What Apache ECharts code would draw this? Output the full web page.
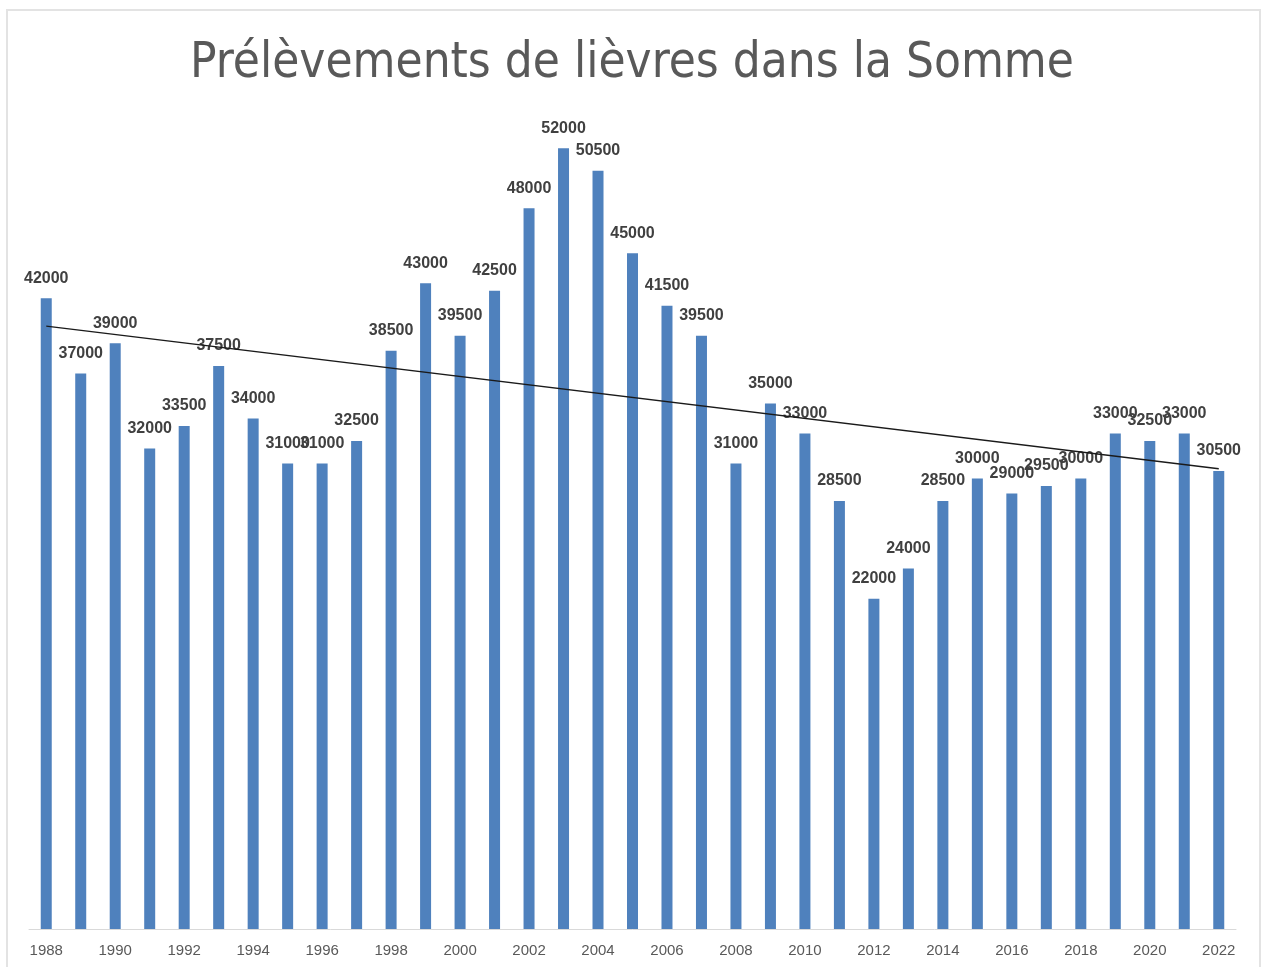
<!DOCTYPE html>
<html><head><meta charset="utf-8">
<script src="https://cdn.jsdelivr.net/npm/echarts@6/dist/echarts.min.js"></script>
<style>html,body{margin:0;padding:0;background:#fff}#c{width:1264px;height:967px}</style>
</head><body><div id="c"></div>
<script>
const years = ['1988','1989','1990','1991','1992','1993','1994','1995','1996','1997','1998','1999','2000','2001','2002','2003','2004','2005','2006','2007','2008','2009','2010','2011','2012','2013','2014','2015','2016','2017','2018','2019','2020','2021','2022'];
const prelevements = [42000,37000,39000,32000,33500,37500,34000,31000,31000,32500,38500,43000,39500,42500,48000,52000,50500,45000,41500,39500,31000,35000,33000,28500,22000,24000,28500,30000,29000,29500,30000,33000,32500,33000,30500];
const trendEnds = [40150, 30650];
const title = 'Prélèvements de lièvres dans la Somme';

const trend = years.map((y,i)=> i===0 ? trendEnds[0] : (i===years.length-1 ? trendEnds[1] : null));

const chart = echarts.init(document.getElementById('c'));
chart.setOption({
  animation:false,
  title:{text:title,left:'center',top:35,textStyle:{fontFamily:'DejaVu Sans Condensed',fontSize:49,fontWeight:'normal',color:'#595959'}},
  graphic:[{type:'rect',shape:{x:7,y:10,width:1253,height:980},style:{fill:'none',stroke:'#e3e3e3',lineWidth:2},silent:true}],
  grid:{left:29,right:28,top:28,bottom:38},
  xAxis:{type:'category',data:years,
    axisLine:{lineStyle:{color:'#d9d9d9',width:1}},axisTick:{show:false},
    axisLabel:{interval:1,color:'#595959',fontFamily:'Liberation Sans',fontSize:15,margin:14}},
  yAxis:{type:'value',min:0,max:60000,show:false,splitLine:{show:false}},
  series:[
    {type:'bar',data:prelevements,barWidth:11,itemStyle:{color:'#4f81bd'},
     label:{show:true,position:'top',distance:12,color:'#404040',fontFamily:'Liberation Sans',fontWeight:'bold',fontSize:16}},
    {type:'line',data:trend,connectNulls:true,symbol:'none',lineStyle:{color:'#1a1a1a',width:1.3},z:5}
  ]
});
</script></body></html>
